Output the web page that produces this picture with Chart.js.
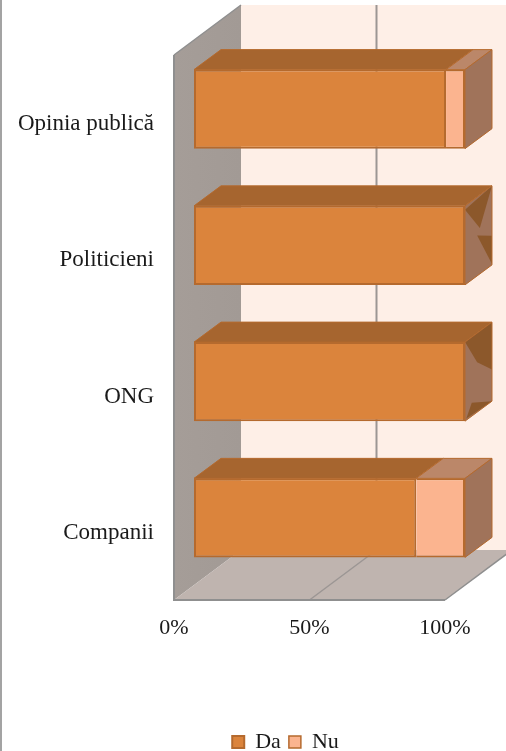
<!DOCTYPE html>
<html>
<head>
<meta charset="utf-8">
<style>
  html, body { margin: 0; padding: 0; background: #fff; overflow: hidden; }
  #wrap { width: 506px; height: 751px; }
</style>
<script src="https://cdn.jsdelivr.net/npm/chart.js@4/dist/chart.umd.min.js"></script>
</head>
<body>
<div id="wrap"><canvas id="chart"></canvas></div>
<script>
const categories = ['Opinia publică', 'Politicieni', 'ONG', 'Companii'];
const daValues = [93, 100, 100, 82];
const nuValues = [7, 0, 0, 18];
const xTicks = [0, 50, 100];

const FONT = '"Liberation Serif", serif';
const DEPTH = { x: 67, y: 50 };       // depth of the whole 3d box
const BAR_OFFSET = { x: 20, y: 14 };  // how far back the bars stand
const BAR_DEPTH = { x: 27, y: 20 };   // depth of one bar

// z-fighting patches on the end of the 100% bars, as (u, v) on the end face
const sidePatches = {
    1: [
        [[0, 0.05], [1, 0], [0.55, 0.42]],
        [[0.45, 0.49], [1, 0.63], [1, 0.99]]
    ],
    2: [
        [[0, 0], [1, 0], [1, 0.6], [0.45, 0.37]],
        [[0.05, 0.98], [0.25, 0.83], [1, 1]]
    ]
};

function poly(ctx, pts, fill, stroke, width) {
    ctx.beginPath();
    pts.forEach(function(p, i) {
        if (i === 0) ctx.moveTo(p[0], p[1]);
        else ctx.lineTo(p[0], p[1]);
    });
    ctx.closePath();
    if (fill) {
        ctx.fillStyle = fill;
        ctx.fill();
    }
    if (stroke) {
        ctx.strokeStyle = stroke;
        ctx.lineWidth = width || 1;
        ctx.stroke();
    }
}

function line(ctx, x1, y1, x2, y2, color, width) {
    ctx.beginPath();
    ctx.moveTo(x1, y1);
    ctx.lineTo(x2, y2);
    ctx.strokeStyle = color;
    ctx.lineWidth = width;
    ctx.stroke();
}

const box3d = {
    id: 'box3d',
    afterLayout: function(chart) {
        // legend sits right of the page centre and low in the original
        chart.legend.left += 63;
        chart.legend.right += 63;
        chart.legend.top += 12;
        chart.legend.bottom += 12;
    },
    beforeDraw: function(chart) {
        const ctx = chart.ctx;
        ctx.save();
        ctx.fillStyle = '#a3a3a3';
        ctx.fillRect(0, 0, 2, chart.height);
        ctx.restore();
    },
    beforeDatasetsDraw: function(chart) {
        const ctx = chart.ctx;
        const x = chart.scales.x;
        const a = chart.chartArea;
        const x0 = x.getPixelForValue(0);
        const x100 = x.getPixelForValue(100);

        ctx.save();
        // back wall
        ctx.fillStyle = '#feefe7';
        ctx.fillRect(x0 + DEPTH.x, a.top - DEPTH.y, chart.width - x0 - DEPTH.x, a.bottom - a.top);
        // left wall
        const wall = ctx.createLinearGradient(x0, 0, x0 + DEPTH.x, 0);
        wall.addColorStop(0, '#a59d98');
        wall.addColorStop(1, '#a29a95');
        poly(ctx, [[x0, a.top], [x0 + DEPTH.x, a.top - DEPTH.y], [x0 + DEPTH.x, a.bottom - DEPTH.y], [x0, a.bottom]], wall);
        // floor
        poly(ctx, [[x0, a.bottom], [x0 + DEPTH.x, a.bottom - DEPTH.y], [x100 + DEPTH.x, a.bottom - DEPTH.y], [x100, a.bottom]], '#bfb4af');

        // grid
        xTicks.forEach(function(v) {
            if (v === 0 || v === 100) return;
            const px = x.getPixelForValue(v);
            line(ctx, px, a.bottom, px + DEPTH.x, a.bottom - DEPTH.y, '#9c9694', 1.5);
            line(ctx, px + DEPTH.x, a.bottom - DEPTH.y, px + DEPTH.x, a.top - DEPTH.y, '#9c9694', 2);
        });

        // edges
        line(ctx, x0, a.top, x0 + DEPTH.x, a.top - DEPTH.y, '#8f8f8f', 1.5);
        line(ctx, x0, a.top, x0, a.bottom, '#8f8f8f', 2);
        line(ctx, x0 - 1, a.bottom, x100, a.bottom, '#8f8f8f', 2);
        line(ctx, x100, a.bottom, x100 + DEPTH.x, a.bottom - DEPTH.y, '#8f8f8f', 1.5);
        ctx.restore();

        // bars are drawn by the library, only moved back into the box
        ctx.save();
        ctx.translate(BAR_OFFSET.x, -BAR_OFFSET.y);
    },
    afterDatasetsDraw: function(chart) {
        const ctx = chart.ctx;
        const edge = '#b56a2e';
        const dx = BAR_DEPTH.x, dy = BAR_DEPTH.y;
        const metaDa = chart.getDatasetMeta(0).data;
        const metaNu = chart.getDatasetMeta(1).data;

        metaDa.forEach(function(bar, i) {
            const nu = metaNu[i];
            const top = bar.y - bar.height / 2;
            const bottom = bar.y + bar.height / 2;

            // top faces
            poly(ctx, [[bar.base, top], [bar.base + dx, top - dy], [bar.x + dx, top - dy], [bar.x, top]], '#a6652f', edge, 1);
            if (nuValues[i] > 0) {
                poly(ctx, [[nu.base, top], [nu.base + dx, top - dy], [nu.x + dx, top - dy], [nu.x, top]], '#bb8769', edge, 1);
            }

            // end face
            const end = nu.x;
            const sidePoint = function(p) {
                return [end + p[0] * dx, top + p[1] * (bottom - top) - p[0] * dy];
            };
            poly(ctx, [[end, top], [end + dx, top - dy], [end + dx, bottom - dy], [end, bottom]], '#a0735a');
            (sidePatches[i] || []).forEach(function(patch) {
                poly(ctx, patch.map(sidePoint), '#8c582b');
            });
            poly(ctx, [[end, top], [end + dx, top - dy], [end + dx, bottom - dy], [end, bottom]], null, edge, 1);
        });
        ctx.restore();
    }
};

new Chart(document.getElementById('chart'), {
    type: 'bar',
    data: {
        labels: categories,
        datasets: [
            {
                label: 'Da',
                data: daValues,
                backgroundColor: '#db843c',
                borderColor: '#b56a2e',
                borderWidth: 2,
                borderSkipped: false,
                clip: false
            },
            {
                label: 'Nu',
                data: nuValues,
                backgroundColor: '#fbb48f',
                borderColor: '#b56a2e',
                borderWidth: { top: 2, bottom: 2, left: 0, right: 2 },
                borderSkipped: false,
                clip: false
            }
        ]
    },
    options: {
        indexAxis: 'y',
        responsive: true,
        maintainAspectRatio: false,
        animation: false,
        layout: { padding: { top: 55, right: 61 } },
        datasets: { bar: { barPercentage: 0.58, categoryPercentage: 1 } },
        plugins: {
            tooltip: { enabled: false },
            legend: {
                position: 'bottom',
                labels: {
                    color: '#1a1a1a',
                    font: { family: FONT, size: 22 },
                    boxWidth: 12,
                    boxHeight: 12,
                    padding: 8
                }
            }
        },
        scales: {
            x: {
                stacked: true,
                min: 0,
                max: 100,
                afterBuildTicks: function(scale) {
                    scale.ticks = xTicks.map(function(v) { return { value: v }; });
                },
                grid: { display: false },
                border: { display: false },
                ticks: {
                    color: '#1a1a1a',
                    font: { family: FONT, size: 22 },
                    maxRotation: 0,
                    padding: 7,
                    callback: function(v) { return v + '%'; }
                },
                afterFit: function(scale) {
                    scale.height = 151 - scale.chart.legend.height;
                    scale.paddingLeft = 0;
                    scale.paddingRight = 0;
                }
            },
            y: {
                stacked: true,
                grid: { display: false },
                border: { display: false },
                ticks: {
                    color: '#1a1a1a',
                    font: { family: FONT, size: 23 },
                    padding: 12,
                    labelOffset: 1,
                    autoSkip: false
                },
                afterFit: function(scale) {
                    scale.width = 174;
                    scale.paddingTop = 0;
                    scale.paddingBottom = 0;
                }
            }
        }
    },
    plugins: [box3d]
});
</script>
</body>
</html>
